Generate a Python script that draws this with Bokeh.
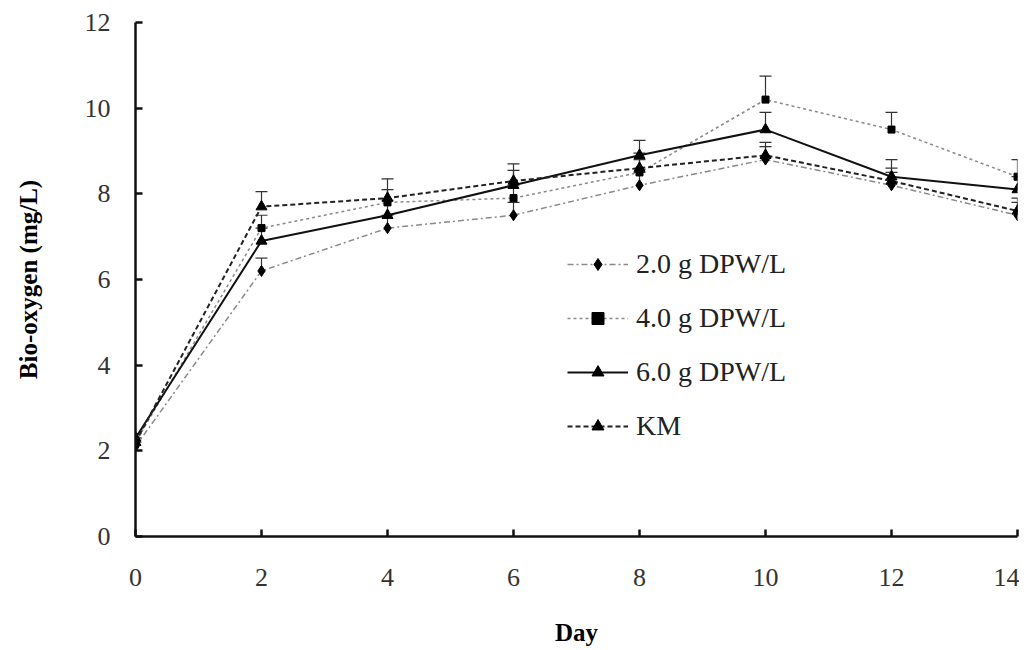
from bokeh.plotting import figure
from bokeh.models import (ColumnDataSource, Whisker, TeeHead, Legend, LegendItem,
                          FixedTicker, Range1d)
from bokeh.embed import file_html
from bokeh.resources import INLINE

days = [0, 2, 4, 6, 8, 10, 12, 14]
series_names = ["2.0 g DPW/L", "4.0 g DPW/L", "6.0 g DPW/L", "KM"]
dpw2 = [2.1, 6.2, 7.2, 7.5, 8.2, 8.8, 8.2, 7.5]
dpw4 = [2.2, 7.2, 7.8, 7.9, 8.5, 10.2, 9.5, 8.4]
dpw6 = [2.3, 6.9, 7.5, 8.2, 8.9, 9.5, 8.4, 8.1]
km = [2.2, 7.7, 7.9, 8.3, 8.6, 8.9, 8.3, 7.6]
err2 = [0.1, 0.3, 0.3, 0.3, 0.3, 0.3, 0.3, 0.3]
err4 = [0.1, 0.3, 0.3, 0.3, 0.3, 0.55, 0.4, 0.4]
err6 = [0.1, 0.3, 0.35, 0.35, 0.35, 0.4, 0.4, 0.3]
errk = [0.1, 0.35, 0.45, 0.4, 0.35, 0.3, 0.3, 0.3]
x_ticks = [0, 2, 4, 6, 8, 10, 12, 14]
y_ticks = [0, 2, 4, 6, 8, 10, 12]

FONT = "Liberation Serif"

p = figure(width=1019, height=648, output_backend="svg", toolbar_location=None,
           x_range=Range1d(0, 14), y_range=Range1d(0, 12),
           min_border_left=135, min_border_right=2, min_border_top=22,
           min_border_bottom=110)
p.outline_line_color = None
p.xgrid.visible = False
p.ygrid.visible = False

styles = [
    dict(vals=dpw2, err=err2, color="#8a8a8a", dash="6 3 2 3", width=1.5, marker="diamond", size=11),
    dict(vals=dpw4, err=err4, color="#8a8a8a", dash="3 3", width=1.5, marker="square", size=7),
    dict(vals=dpw6, err=err6, color="#111111", dash="solid", width=2, marker="triangle", size=11),
    dict(vals=km, err=errk, color="#222222", dash="5 3", width=2, marker="triangle", size=11),
]

items = []
for name, st in zip(series_names, styles):
    upper = [v + e for v, e in zip(st["vals"], st["err"])]
    src = ColumnDataSource(dict(x=days, y=st["vals"], upper=upper))
    w = Whisker(source=src, base="x", upper="upper", lower="y", dimension="height",
                line_color="#333333", line_width=1.2,
                upper_head=TeeHead(size=12, line_color="#333333", line_width=1.2),
                lower_head=None)
    p.add_layout(w)
    r_line = p.line("x", "y", source=src, line_color=st["color"], line_width=st["width"],
                    line_dash=st["dash"])
    r_mark = p.scatter("x", "y", source=src, marker=st["marker"], size=st["size"],
                       fill_color="black", line_color="black")
    items.append(LegendItem(label=name, renderers=[r_line, r_mark]))

legend = Legend(items=items, location=(432, 94), orientation="vertical",
                background_fill_alpha=0, border_line_color=None,
                glyph_width=61, glyph_height=30, label_height=30, spacing=22,
                padding=0, margin=0, label_standoff=8,
                label_text_font=FONT, label_text_font_size="28px",
                label_text_color="#222222")
p.add_layout(legend, "center")

for ax in (p.xaxis[0], p.yaxis[0]):
    ax.axis_line_width = 2.5
    ax.axis_line_color = "#111111"
    ax.major_tick_in = 7
    ax.major_tick_out = 0
    ax.major_tick_line_width = 2.5
    ax.major_tick_line_color = "#111111"
    ax.minor_tick_line_color = None
    ax.major_label_text_font = FONT
    ax.major_label_text_font_size = "26px"
    ax.major_label_text_color = "#333333"
    ax.axis_label_text_font = FONT
    ax.axis_label_text_font_style = "bold"
    ax.axis_label_text_font_size = "25px"
    ax.axis_label_text_color = "#000000"

p.xaxis.ticker = FixedTicker(ticks=x_ticks)
p.yaxis.ticker = FixedTicker(ticks=y_ticks)
p.xaxis.axis_label = "Day"
p.yaxis.axis_label = "Bio-oxygen (mg/L)"
p.xaxis.major_label_standoff = 32
p.yaxis.major_label_standoff = 25
p.xaxis.axis_label_standoff = 30
p.yaxis.axis_label_standoff = 40

open("out.html", "w").write(file_html(p, INLINE))
